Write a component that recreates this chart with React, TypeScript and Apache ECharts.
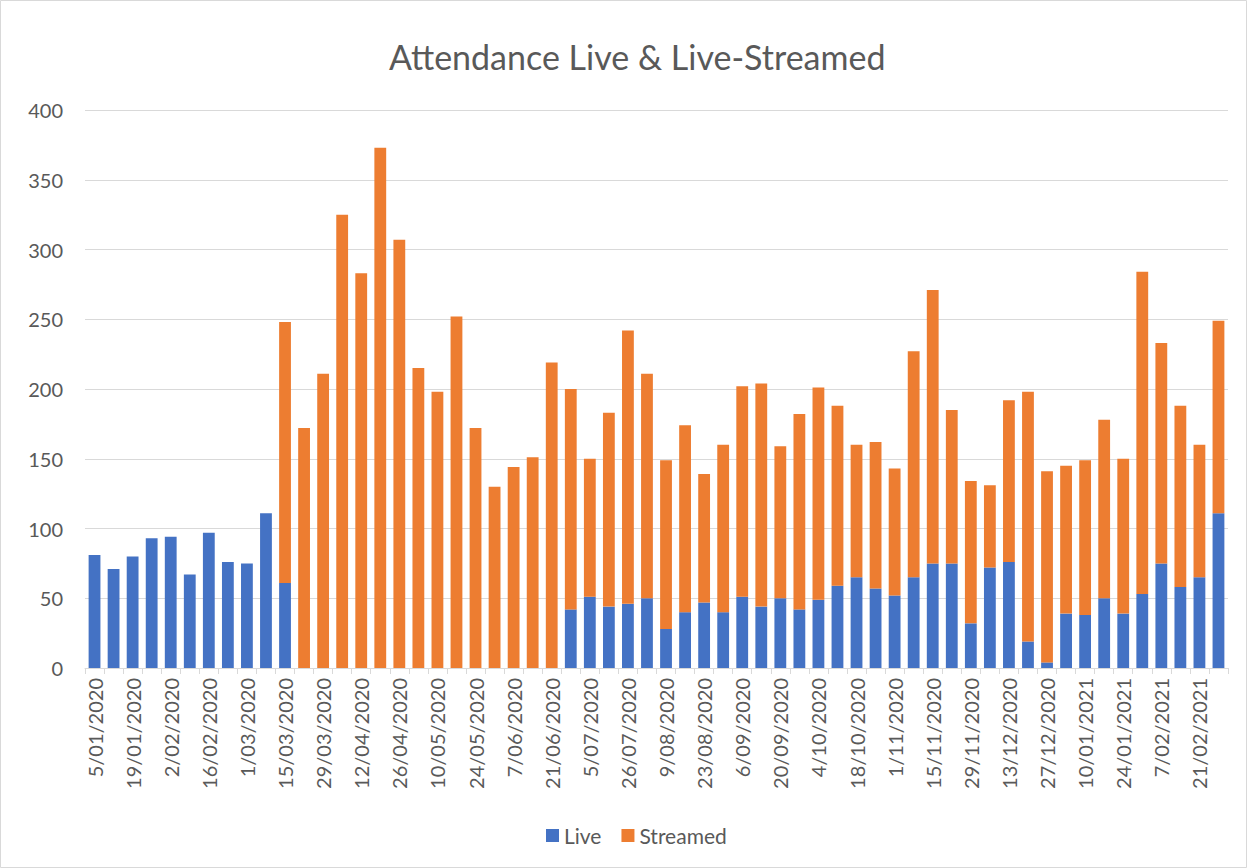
import React, { useEffect, useRef } from "react";
import * as echarts from "echarts";

const categories = [
  "5/01/2020", "12/01/2020", "19/01/2020", "26/01/2020", "2/02/2020", "9/02/2020",
  "16/02/2020", "23/02/2020", "1/03/2020", "8/03/2020", "15/03/2020", "22/03/2020",
  "29/03/2020", "5/04/2020", "12/04/2020", "19/04/2020", "26/04/2020", "3/05/2020",
  "10/05/2020", "17/05/2020", "24/05/2020", "31/05/2020", "7/06/2020", "14/06/2020",
  "21/06/2020", "28/06/2020", "5/07/2020", "19/07/2020", "26/07/2020", "2/08/2020",
  "9/08/2020", "16/08/2020", "23/08/2020", "30/08/2020", "6/09/2020", "13/09/2020",
  "20/09/2020", "27/09/2020", "4/10/2020", "11/10/2020", "18/10/2020", "25/10/2020",
  "1/11/2020", "8/11/2020", "15/11/2020", "22/11/2020", "29/11/2020", "6/12/2020",
  "13/12/2020", "20/12/2020", "27/12/2020", "3/01/2021", "10/01/2021", "17/01/2021",
  "24/01/2021", "31/01/2021", "7/02/2021", "14/02/2021", "21/02/2021", "28/02/2021",
];

const liveValues = [
  81, 71, 80, 93, 94, 67, 97, 76, 75, 111,
  61, 0, 0, 0, 0, 0, 0, 0, 0, 0,
  0, 0, 0, 0, 0, 42, 51, 44, 46, 50,
  28, 40, 47, 40, 51, 44, 50, 42, 49, 59,
  65, 57, 52, 65, 75, 75, 32, 72, 76, 19,
  4, 39, 38, 50, 39, 53, 75, 58, 65, 111,
];

const streamedValues = [
  0, 0, 0, 0, 0, 0, 0, 0, 0, 0,
  187, 172, 211, 325, 283, 373, 307, 215, 198, 252,
  172, 130, 144, 151, 219, 158, 99, 139, 196, 161,
  121, 134, 92, 120, 151, 160, 109, 140, 152, 129,
  95, 105, 91, 162, 196, 110, 102, 59, 116, 179,
  137, 106, 111, 128, 111, 231, 158, 130, 95, 138,
];

const yTicks = { min: 0, max: 400, interval: 50 };

const FONT = "Lato, 'Noto Sans', sans-serif";
const TEXT = "#595959";
const GRID = "#d9d9d9";

export default function App() {
  const ref = useRef<HTMLDivElement>(null);

  useEffect(() => {
    document.body.style.margin = "0";
    if (!ref.current) return;
    const chart = echarts.init(ref.current, null, { renderer: "svg" });
    chart.setOption({
      animation: false,
      backgroundColor: "#ffffff",
      textStyle: { fontFamily: FONT },
      title: {
        text: "Attendance Live & Live-Streamed",
        left: 384,
        top: 34,
        textStyle: { fontFamily: FONT, fontSize: 34, fontWeight: "normal", color: TEXT },
      },
      graphic: [
        {
          type: "rect",
          shape: { x: 0.5, y: 0.5, width: 1246, height: 867 },
          style: { fill: "none", stroke: GRID, lineWidth: 1 },
          silent: true,
        },
      ],
      legend: {
        bottom: 17,
        left: 541,
        icon: "rect",
        itemWidth: 13,
        itemHeight: 13,
        itemGap: 20,
        textStyle: { fontFamily: FONT, fontSize: 21, color: TEXT },
        data: ["Live", "Streamed"],
      },
      grid: { left: 85, right: 19, top: 110, bottom: 200, containLabel: false },
      xAxis: {
        type: "category",
        data: categories,
        axisLine: { lineStyle: { color: GRID, width: 1 } },
        axisTick: { show: true, interval: 0, length: 6, lineStyle: { color: GRID } },
        axisLabel: {
          interval: 1,
          rotate: 90,
          margin: 10,
          fontFamily: FONT,
          fontSize: 20,
          color: TEXT,
        },
      },
      yAxis: {
        type: "value",
        min: yTicks.min,
        max: yTicks.max,
        interval: yTicks.interval,
        axisLine: { show: false },
        axisTick: { show: false },
        axisLabel: { fontFamily: FONT, fontSize: 20, color: TEXT, margin: 22 },
        splitLine: { lineStyle: { color: GRID, width: 1 } },
      },
      series: [
        {
          name: "Live",
          type: "bar",
          stack: "total",
          data: liveValues,
          barWidth: "62%",
          itemStyle: { color: "#4472C4" },
        },
        {
          name: "Streamed",
          type: "bar",
          stack: "total",
          data: streamedValues,
          barWidth: "62%",
          itemStyle: { color: "#ED7D31" },
        },
      ],
    });
    return () => chart.dispose();
  }, []);

  return <div ref={ref} style={{ width: 1247, height: 868 }} />;
}
